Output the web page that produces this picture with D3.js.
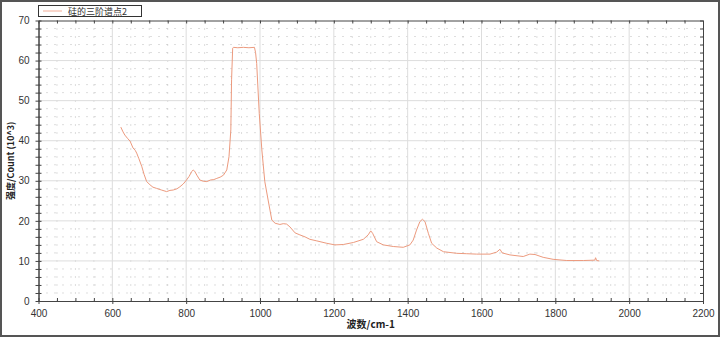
<!DOCTYPE html>
<html>
<head>
<meta charset="utf-8">
<script src="https://cdn.jsdelivr.net/npm/d3@7"></script>
<style>
  body { margin: 0; background: #fff; }
  svg { display: block; font-family: "Liberation Sans", Arial, sans-serif; }
</style>
</head>
<body>
<div id="chart"></div>
<script>
// wavenumber (cm-1) and intensity (10^3 counts)
const waveNumbers = [623, 629, 634, 641, 648, 656, 662, 666, 672, 680, 686, 693, 702, 710, 720, 733, 747, 756, 765, 775, 783, 792,
  801, 808, 815, 819, 823, 829, 837, 846, 856, 866, 875, 883, 892, 901, 910, 916, 921, 923, 926, 928, 940, 955, 970, 985,
  988, 991, 998, 1005, 1013, 1022, 1027, 1032, 1041, 1054, 1063, 1072, 1081, 1095, 1108, 1122, 1135, 1154, 1181,
  1203, 1226, 1253, 1280, 1293, 1300, 1305, 1316, 1334, 1361, 1388, 1406, 1415, 1424, 1433, 1440, 1447, 1456,
  1465, 1479, 1497, 1533, 1560, 1587, 1623, 1641, 1650, 1656, 1677, 1713, 1731, 1745, 1767, 1794, 1831, 1876,
  1907, 1909, 1912, 1919];
const intensity = [43.4, 42.2, 41.4, 40.6, 39.9, 38.2, 37.6, 36.9, 35.5, 33.5, 31.6, 29.8, 29.0, 28.4, 28.1, 27.7, 27.3, 27.6, 27.7, 28.0, 28.5, 29.2,
  30.2, 31.1, 32.3, 32.7, 32.4, 31.4, 30.2, 29.9, 29.8, 30.2, 30.3, 30.6, 30.9, 31.4, 32.7, 36.0, 42.7, 55.2, 63.1, 63.3, 63.2, 63.3, 63.2, 63.3,
  62.0, 59.3, 46.8, 37.7, 29.8, 25.2, 22.7, 20.2, 19.4, 19.1, 19.3, 19.2, 18.5, 17.0, 16.5, 16.0, 15.4, 15.0, 14.4,
  14.0, 14.1, 14.6, 15.4, 16.5, 17.5, 16.9, 14.8, 14.0, 13.6, 13.4, 14.0, 15.2, 17.7, 19.8, 20.4, 19.8, 16.9,
  14.4, 13.2, 12.3, 11.9, 11.8, 11.7, 11.7, 12.2, 12.9, 12.0, 11.5, 11.1, 11.7, 11.6, 10.9, 10.4, 10.1, 10.1,
  10.2, 10.8, 10.1, 10.0];
const xTicks = [400, 600, 800, 1000, 1200, 1400, 1600, 1800, 2000, 2200];
const yTicks = [0, 10, 20, 30, 40, 50, 60, 70];
const seriesName = "硅的三阶谱点2";

const w = 720, h = 337;
const padL = 38.5, padR = 703, padT = 20.5, padB = 301;

const svg = d3.select("#chart").append("svg")
  .attr("width", w).attr("height", h);

const x = d3.scaleLinear().domain([400, 2200]).range([padL, padR]);
const y = d3.scaleLinear().domain([0, 70]).range([padB, padT]);

// outer frame
svg.append("rect")
  .attr("x", 1).attr("y", 1).attr("width", w - 2).attr("height", h - 2)
  .attr("fill", "#fff").attr("stroke", "#555").attr("stroke-width", 2);

const minorX = d3.range(400, 2201, 50).filter(v => v % 200 != 0);
const minorY = d3.range(0, 71, 2).filter(v => v % 10 != 0);

// minor dotted grid
svg.append("g").selectAll("line").data(minorX).enter().append("line")
  .attr("x1", d => x(d)).attr("x2", d => x(d))
  .attr("y1", padT).attr("y2", padB)
  .attr("stroke", "#bbb").attr("stroke-dasharray", "1,7");
svg.append("g").selectAll("line").data(minorY).enter().append("line")
  .attr("y1", d => y(d)).attr("y2", d => y(d))
  .attr("x1", padL).attr("x2", padR)
  .attr("stroke", "#bbb").attr("stroke-dasharray", "1,7");

// major grid
svg.append("g").selectAll("line").data(xTicks.slice(1, -1)).enter().append("line")
  .attr("x1", d => x(d)).attr("x2", d => x(d))
  .attr("y1", padT).attr("y2", padB)
  .attr("stroke", "#ddd");
svg.append("g").selectAll("line").data(yTicks.slice(1, -1)).enter().append("line")
  .attr("y1", d => y(d)).attr("y2", d => y(d))
  .attr("x1", padL).attr("x2", padR)
  .attr("stroke", "#ddd");

// axes
function styleAxis(g) {
  g.select(".domain").attr("stroke", "#444");
  g.selectAll(".tick line").attr("stroke", "#444");
  g.selectAll(".tick text").attr("fill", "#333").attr("font-size", 10)
   .attr("font-family", "Liberation Sans, Arial, sans-serif");
}

svg.append("g").attr("transform", `translate(0,${padB})`)
  .call(d3.axisBottom(x).tickValues(xTicks).tickSize(3).tickPadding(6).tickSizeOuter(0).tickFormat(d3.format("d")))
  .call(styleAxis)
  .call(g => g.selectAll(".tick line").attr("y1", -3));
svg.append("g").attr("transform", `translate(0,${padB})`)
  .call(d3.axisTop(x).tickValues(minorX).tickSize(3).tickSizeOuter(0).tickFormat(""))
  .call(styleAxis);

svg.append("g").attr("transform", `translate(${padL},0)`)
  .call(d3.axisLeft(y).tickValues(yTicks).tickSize(3).tickPadding(6).tickSizeOuter(0))
  .call(styleAxis)
  .call(g => g.selectAll(".tick line").attr("x1", 3));
svg.append("g").attr("transform", `translate(${padL},0)`)
  .call(d3.axisLeft(y).tickValues(minorY).tickSize(3).tickSizeOuter(0).tickFormat(""))
  .call(styleAxis)
  .call(g => g.selectAll(".tick line").attr("x1", 3));

svg.append("g").attr("transform", `translate(0,${padT})`)
  .call(d3.axisBottom(x).tickValues(xTicks.concat(minorX)).tickSize(3).tickSizeOuter(0).tickFormat(""))
  .call(styleAxis);
svg.append("g").attr("transform", `translate(${padR},0)`)
  .call(d3.axisLeft(y).tickValues(yTicks.concat(minorY)).tickSize(3).tickSizeOuter(0).tickFormat(""))
  .call(styleAxis);

// the spectrum
const pts = waveNumbers.map((d, i) => [d, intensity[i]]);
svg.append("path")
  .datum(pts)
  .attr("fill", "none")
  .attr("stroke", "#ec9a7e")
  .attr("stroke-width", 1)
  .attr("d", d3.line().x(d => x(d[0])).y(d => y(d[1])));

// axis titles
svg.append("text")
  .attr("x", (padL + padR) / 2).attr("y", 328)
  .attr("text-anchor", "middle").attr("font-size", 10).attr("font-weight", "bold")
  .attr("fill", "#222")
  .attr("font-family", "Noto Sans CJK SC, Liberation Sans, sans-serif")
  .text("波数/cm-1");
svg.append("text")
  .attr("transform", `translate(14,${(padT + padB) / 2}) rotate(-90)`)
  .attr("text-anchor", "middle").attr("font-size", 9).attr("font-weight", "bold")
  .attr("fill", "#222")
  .attr("font-family", "Noto Sans CJK SC, Liberation Sans, sans-serif")
  .text("强度/Count (10^3)");

// legend
const lg = svg.append("g");
lg.append("rect")
  .attr("x", 38.5).attr("y", 5.5).attr("width", 103).attr("height", 11)
  .attr("fill", "#fff").attr("stroke", "#333");
lg.append("line")
  .attr("x1", 43).attr("x2", 62).attr("y1", 11).attr("y2", 11)
  .attr("stroke", "#f2ad97");
lg.append("text")
  .attr("x", 68).attr("y", 14.5).attr("font-size", 9).attr("fill", "#333")
  .attr("font-family", "Noto Sans CJK SC, sans-serif")
  .text(seriesName);
</script>
</body>
</html>
